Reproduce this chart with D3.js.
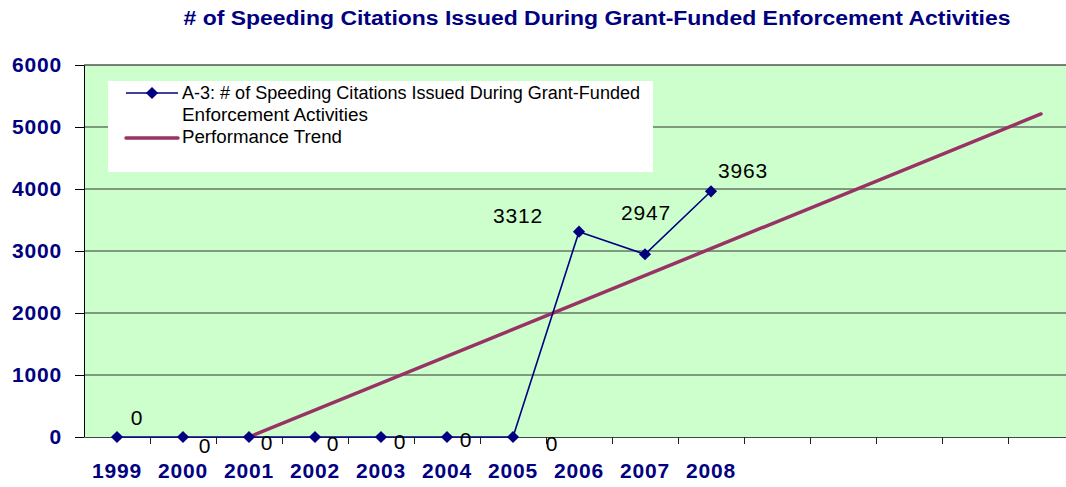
<!DOCTYPE html>
<html>
<head>
<meta charset="utf-8">
<script src="https://cdn.jsdelivr.net/npm/d3@7"></script>
<style>
  body { margin: 0; background: #fff; }
  svg { display: block; font-family: Arial, "Liberation Sans", sans-serif; }
</style>
</head>
<body>
<svg id="chart" width="1066" height="487"></svg>
<script>
// chart data
const title = "# of Speeding Citations Issued During Grant-Funded Enforcement Activities";
const seriesName = "A-3: # of Speeding Citations Issued During Grant-Funded Enforcement Activities";
const trendName = "Performance Trend";

// category slots on the axis (the later ones carry no label)
const slots = ["1999", "2000", "2001", "2002", "2003", "2004", "2005", "2006",
               "2007", "2008", "2009", "2010", "2011", "2012", "2013", "2014"];
const tickLabels = ["1999", "2000", "2001", "2002", "2003", "2004", "2005", "2006", "2007", "2008"];
const citations = [0, 0, 0, 0, 0, 0, 0, 3312, 2947, 3963];

// performance trend, straight line between these two points
const trendYears = ["2001", "2013"];
const trendValues = [0, 5210];

const yTicks = [0, 1000, 2000, 3000, 4000, 5000, 6000];

// where each data label sits relative to its marker (layout only)
const labelNudge = [[20, -20], [22, 8], [18, 5], [18, 6], [19, 4], [19, 2], [39, 6],
                    [-61, -16], [1, -42], [32, -21]];

// colours
const navy = "#000080";
const trendColor = "#993366";
const plotBg = "#CCFFCC";

// svg setting
const svg = d3.select("#chart");
const plotL = 84, plotT = 65, plotB = 437, plotR = 1066;
const slotW = 66;

const x = d3.scaleBand().domain(slots).range([plotL, plotL + slotW * slots.length]);
const xEdge = d3.scaleLinear().domain([0, slots.length]).range([plotL, plotL + slotW * slots.length]);
const y = d3.scaleLinear().domain([0, 6000]).range([plotB, plotT]);
const cx = d => x(d) + x.bandwidth() / 2;

// title
svg.append("text")
    .attr("x", 597).attr("y", 25)
    .attr("text-anchor", "middle")
    .attr("font-size", 20).attr("font-weight", "bold")
    .attr("fill", navy)
    .attr("textLength", 827).attr("lengthAdjust", "spacingAndGlyphs")
    .text(title);

// plot background
svg.append("rect")
    .attr("x", plotL).attr("y", plotT)
    .attr("width", plotR - plotL).attr("height", plotB - plotT)
    .attr("fill", plotBg);

// gridlines
svg.append("g")
    .selectAll("line")
    .data(yTicks.filter(v => v > 0))
    .join("line")
    .attr("x1", plotL).attr("x2", plotR)
    .attr("y1", d => y(d)).attr("y2", d => y(d))
    .attr("stroke", d => d === 6000 ? "#000" : "#333")
    .attr("stroke-width", 1);

// y axis
const yAxis = svg.append("g")
    .attr("transform", `translate(${plotL},0)`)
    .call(d3.axisLeft(y).tickValues(yTicks).tickFormat(d3.format("d"))
        .tickSize(9).tickPadding(13).tickSizeOuter(0));
yAxis.select(".domain").attr("stroke", "#000");
yAxis.selectAll(".tick line").attr("stroke", "#000");
yAxis.selectAll("text")
    .attr("font-size", 21).attr("font-weight", "bold")
    .attr("letter-spacing", 0.8)
    .attr("fill", navy)
    .attr("font-family", "Arial, 'Liberation Sans', sans-serif");

// x axis: ticks between the slots
const xAxis = svg.append("g")
    .attr("transform", `translate(0,${plotB})`)
    .call(d3.axisBottom(xEdge).tickValues(d3.range(1, slots.length + 1)).tickSize(7).tickSizeOuter(0).tickFormat(""));
xAxis.select(".domain").attr("stroke", "#444");
xAxis.selectAll(".tick line").attr("stroke", "#222");

// x labels under the slot centres
const xLab = svg.append("g")
    .attr("transform", `translate(0,${plotB})`)
    .call(d3.axisBottom(x).tickValues(tickLabels).tickSize(0));
xLab.select(".domain").remove();
xLab.selectAll("text")
    .attr("y", 41).attr("dy", 0)
    .attr("font-size", 21).attr("font-weight", "bold")
    .attr("letter-spacing", 0.8)
    .attr("fill", navy)
    .attr("font-family", "Arial, 'Liberation Sans', sans-serif");

// trend line
svg.append("path")
    .datum(trendYears.map((d, i) => [d, trendValues[i]]))
    .attr("fill", "none")
    .attr("stroke", trendColor)
    .attr("stroke-width", 3.5)
    .attr("stroke-linecap", "round")
    .attr("d", d3.line().x(d => cx(d[0])).y(d => y(d[1])));

// series line
const pts = tickLabels.map((d, i) => [d, citations[i]]);
svg.append("path")
    .datum(pts)
    .attr("fill", "none")
    .attr("stroke", navy)
    .attr("stroke-width", 1.6)
    .attr("d", d3.line().x(d => cx(d[0])).y(d => y(d[1])));

const diamond = d3.symbol(d3.symbolSquare, 74);
svg.append("g")
    .selectAll("path")
    .data(pts)
    .join("path")
    .attr("d", diamond)
    .attr("transform", d => `translate(${cx(d[0])},${y(d[1])}) rotate(45)`)
    .attr("fill", navy);

// data labels
svg.append("g")
    .selectAll("text")
    .data(pts)
    .join("text")
    .attr("x", (d, i) => cx(d[0]) + labelNudge[i][0])
    .attr("y", (d, i) => y(d[1]) + labelNudge[i][1] + 7.5)
    .attr("text-anchor", "middle")
    .attr("font-size", 21)
    .attr("letter-spacing", 0.8)
    .attr("fill", "#000")
    .text(d => d[1]);

// legend
const lg = svg.append("g");
lg.append("rect")
    .attr("x", 108).attr("y", 81)
    .attr("width", 545).attr("height", 91)
    .attr("fill", "#fff");
lg.append("line")
    .attr("x1", 126).attr("x2", 178).attr("y1", 93).attr("y2", 93)
    .attr("stroke", navy).attr("stroke-width", 1.6);
lg.append("path")
    .attr("d", diamond)
    .attr("transform", "translate(152,93) rotate(45)")
    .attr("fill", navy);
lg.append("line")
    .attr("x1", 126).attr("x2", 178).attr("y1", 138).attr("y2", 138)
    .attr("stroke", trendColor).attr("stroke-width", 3.5)
    .attr("stroke-linecap", "round");

const words = seriesName.split(" ");
const legendLines = [words.slice(0, 8).join(" "), words.slice(8).join(" "), trendName];
const legendLen = [458, 186, 160];
lg.selectAll("text.leg")
    .data(legendLines)
    .join("text")
    .attr("class", "leg")
    .attr("x", 182)
    .attr("y", (d, i) => [99, 121, 143][i])
    .attr("font-size", 18)
    .attr("fill", "#000")
    .attr("textLength", (d, i) => legendLen[i])
    .attr("lengthAdjust", "spacingAndGlyphs")
    .text(d => d);
</script>
</body>
</html>
